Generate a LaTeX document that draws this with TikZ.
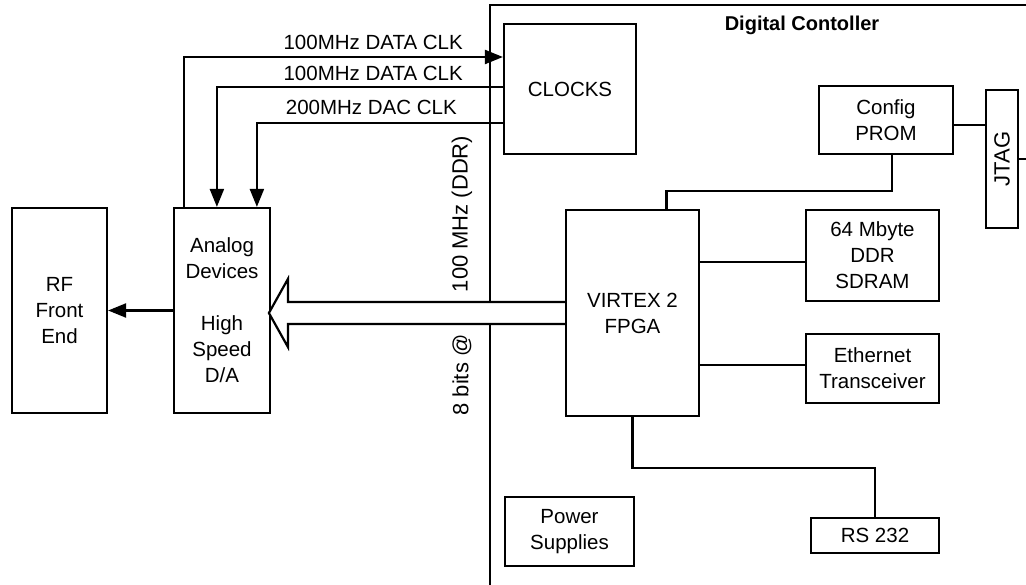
\documentclass[tikz,border=0pt]{standalone}
\usepackage{fontspec}
\setmainfont{Liberation Sans}
\usetikzlibrary{arrows.meta}
\begin{document}
\begin{tikzpicture}[x=1pt,y=-1pt,
  every node/.style={font=\fontsize{20.5}{26}\selectfont, inner sep=0pt},
  blk/.style={draw, line width=2.2pt, fill=white, align=center},
  ln/.style={line width=2.2pt},
  arr/.style={ln, -{Triangle[length=18pt,width=14pt]}},
  vlab/.style={rotate=90, font=\fontsize{22}{26}\selectfont}]
\useasboundingbox (0,0) rectangle (1026,585);
% controller frame
\draw[ln] (1027,5) -- (490,5) -- (490,586);
\node[font=\bfseries\fontsize{20}{24}\selectfont] (title) at (802,25) {Digital Contoller};
% blocks
\node[blk, minimum width=132pt, minimum height=130pt] (clocks) at (570,89) {CLOCKS};
\node[blk, minimum width=96pt, minimum height=205pt] (analog) at (222,310.5) {Analog\\Devices\\[26pt]High\\Speed\\D/A};
\node[blk, minimum width=95pt, minimum height=205pt] (rf) at (59.5,310.5) {RF\\Front\\End};
\node[blk, minimum width=133pt, minimum height=206pt] (virtex) at (632.5,313) {VIRTEX 2\\FPGA};
\node[blk, minimum width=134pt, minimum height=68pt] (prom) at (886,120) {Config\\PROM};
\node[blk, minimum width=32pt, minimum height=138pt] (jtag) at (1002,159) {\rotatebox{90}{\fontsize{22}{26}\selectfont JTAG}};
\node[blk, minimum width=133pt, minimum height=91pt] (sdram) at (872.5,255.5) {64 Mbyte\\DDR\\SDRAM};
\node[blk, minimum width=133pt, minimum height=69pt] (eth) at (872.5,368.5) {Ethernet\\Transceiver};
\node[blk, minimum width=128pt, minimum height=35pt] (rs) at (875,535.5) {RS 232};
\node[blk, minimum width=129pt, minimum height=69pt] (power) at (569.5,531.5) {Power\\Supplies};
% clock lines
\draw[arr] ([xshift=11pt]analog.north west) |- ([yshift=32pt]clocks.west);
\draw[arr] ([yshift=2pt]clocks.west) -| ([xshift=44pt]analog.north west);
\draw[arr] ([yshift=-34pt]clocks.west) -| ([xshift=84pt]analog.north west);
\node[anchor=east] (l1) at (463,42) {100MHz DATA CLK};
\node[anchor=east] (l2) at (463,73) {100MHz DATA CLK};
\node[anchor=east] (l3) at (457,107) {200MHz DAC CLK};
% analog to RF
\draw[arr] (analog.west) -- (rf.east);
% hollow data arrow
\draw[ln, fill=white, line join=miter] ([yshift=11pt]virtex.west) -- ++(-277,0) -- ++(0,-23) -- ++(-19,34) -- ++(19,34) -- ++(0,-23) -- ([yshift=-11pt]virtex.west);
\node[vlab] (d1) at (462,214) {100 MHz (DDR)};
\node[vlab] (d2) at (462,375) {8 bits @};
% FPGA links
\draw[ln] ([xshift=34pt]virtex.north) -- ++(0,-18) -| ([xshift=6pt]prom.south);
\draw[ln] ([yshift=-5pt]prom.east) -- ([yshift=34pt]jtag.west);
\coordinate (jtagout) at (1027,159);
\draw[ln] (jtag.east) -- (jtagout);
\draw[ln] ([yshift=-6.5pt]sdram.west) -- ([yshift=-6.5pt]sdram.west -| virtex.east);
\draw[ln] ([yshift=3.5pt]eth.west) -- ([yshift=3.5pt]eth.west -| virtex.east);
\draw[ln] (virtex.south) -- ++(0,51) -| (rs.north);
\end{tikzpicture}
\end{document}
